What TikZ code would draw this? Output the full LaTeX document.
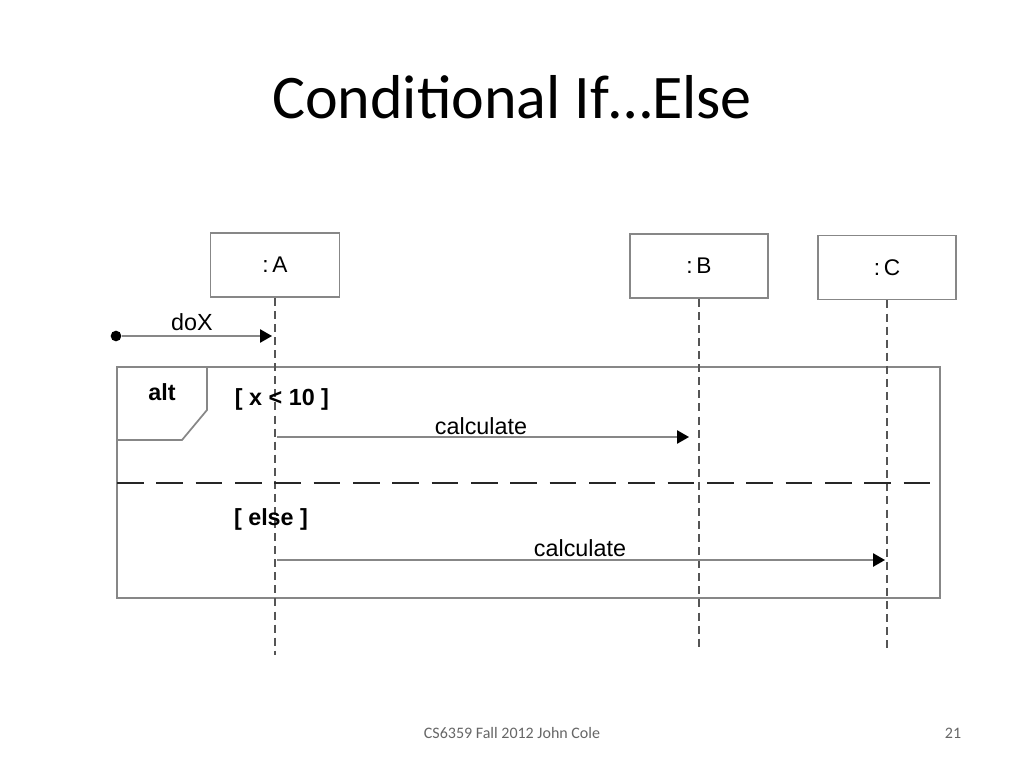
\documentclass[tikz,border=0pt]{standalone}
\usepackage{fontspec}
\setmainfont{Carlito}
\newfontfamily\diagfont{Liberation Sans}
\usetikzlibrary{arrows.meta, positioning}
\tikzset{>=Stealth}
\definecolor{boxgray}{RGB}{135,135,135}
\definecolor{lifegray}{RGB}{85,85,85}
\tikzset{
  obj/.style={draw=boxgray, line width=1.4pt, minimum height=48pt, font=\diagfont\fontsize{17}{19}\selectfont},
  life/.style={draw=lifegray, line width=1.4pt, dash pattern=on 6pt off 3.8pt},
  msg/.style={draw=boxgray, line width=1.2pt, -{Triangle[length=9pt,width=10pt,color=black]}},
  frame/.style={draw=boxgray, line width=1.3pt},
  sep/.style={draw=black!85, line width=2.2pt, dash pattern=on 20pt off 9.5pt},
  lbl/.style={font=\diagfont\fontsize{17.5}{20}\selectfont},
  guard/.style={font=\diagfont\bfseries\fontsize{17.5}{20}\selectfont}
}

\begin{document}
\begin{tikzpicture}[x=0.75pt, y=-0.75pt]
	\useasboundingbox (0,0) rectangle (1024,768);
	\node (title) at (512,97) {\fontsize{46.5}{52}\selectfont Conditional If\ldots Else};
	\node[text=black!60] (foot) at (512,733) {\fontsize{12}{14}\selectfont CS6359 Fall 2012 John Cole};
	\node[text=black!60] (page) at (953,733) {\fontsize{12}{14}\selectfont 21};
	% objects
	\node[obj, minimum width=96.75pt] (A) at (275,265) {:\,A};
	\node[obj, minimum width=103.5pt] (B) at (699,266) {:\,B};
	\node[obj, minimum width=103.5pt] (C) at (887,267.5) {:\,C};
	% alt frame
	\draw[frame] (117,367) rectangle (940,598);
	\draw[frame] (117,440) -- (182,440) -- (207,410) -- (207,367);
	\node[guard] (alt) at (162,392) {alt};
	% lifelines
	\coordinate (Aend) at (275,655);
	\coordinate (Bend) at (699,650);
	\coordinate (Cend) at (887,650);
	\draw[life] (A.south) -- (Aend);
	\draw[life] (B.south) -- (Bend);
	\draw[life] (C.south) -- (Cend);
	\draw[sep] (117,483) -- (940,483);
	% messages
	\node[circle, fill=black, inner sep=0pt, minimum size=8pt] (start) at (116,336) {};
	\coordinate (a0) at (272,336);
	\draw[msg] (start) -- (a0);
	\node[lbl] (doX) at (192,322) {doX};
	\coordinate (a1) at (277,437); \coordinate (b1) at (689,437);
	\draw[msg] (a1) -- (b1);
	\node[guard] (g1) at (282,399) {[ x < 10 ]};
	\node[lbl] (m1) at (481,426) {calculate};
	\coordinate (a2) at (277,560); \coordinate (c2) at (885,560);
	\draw[msg] (a2) -- (c2);
	\node[guard] (g2) at (271,519) {[ else ]};
	\node[lbl] (m2) at (580,548) {calculate};
\end{tikzpicture}
\end{document}
